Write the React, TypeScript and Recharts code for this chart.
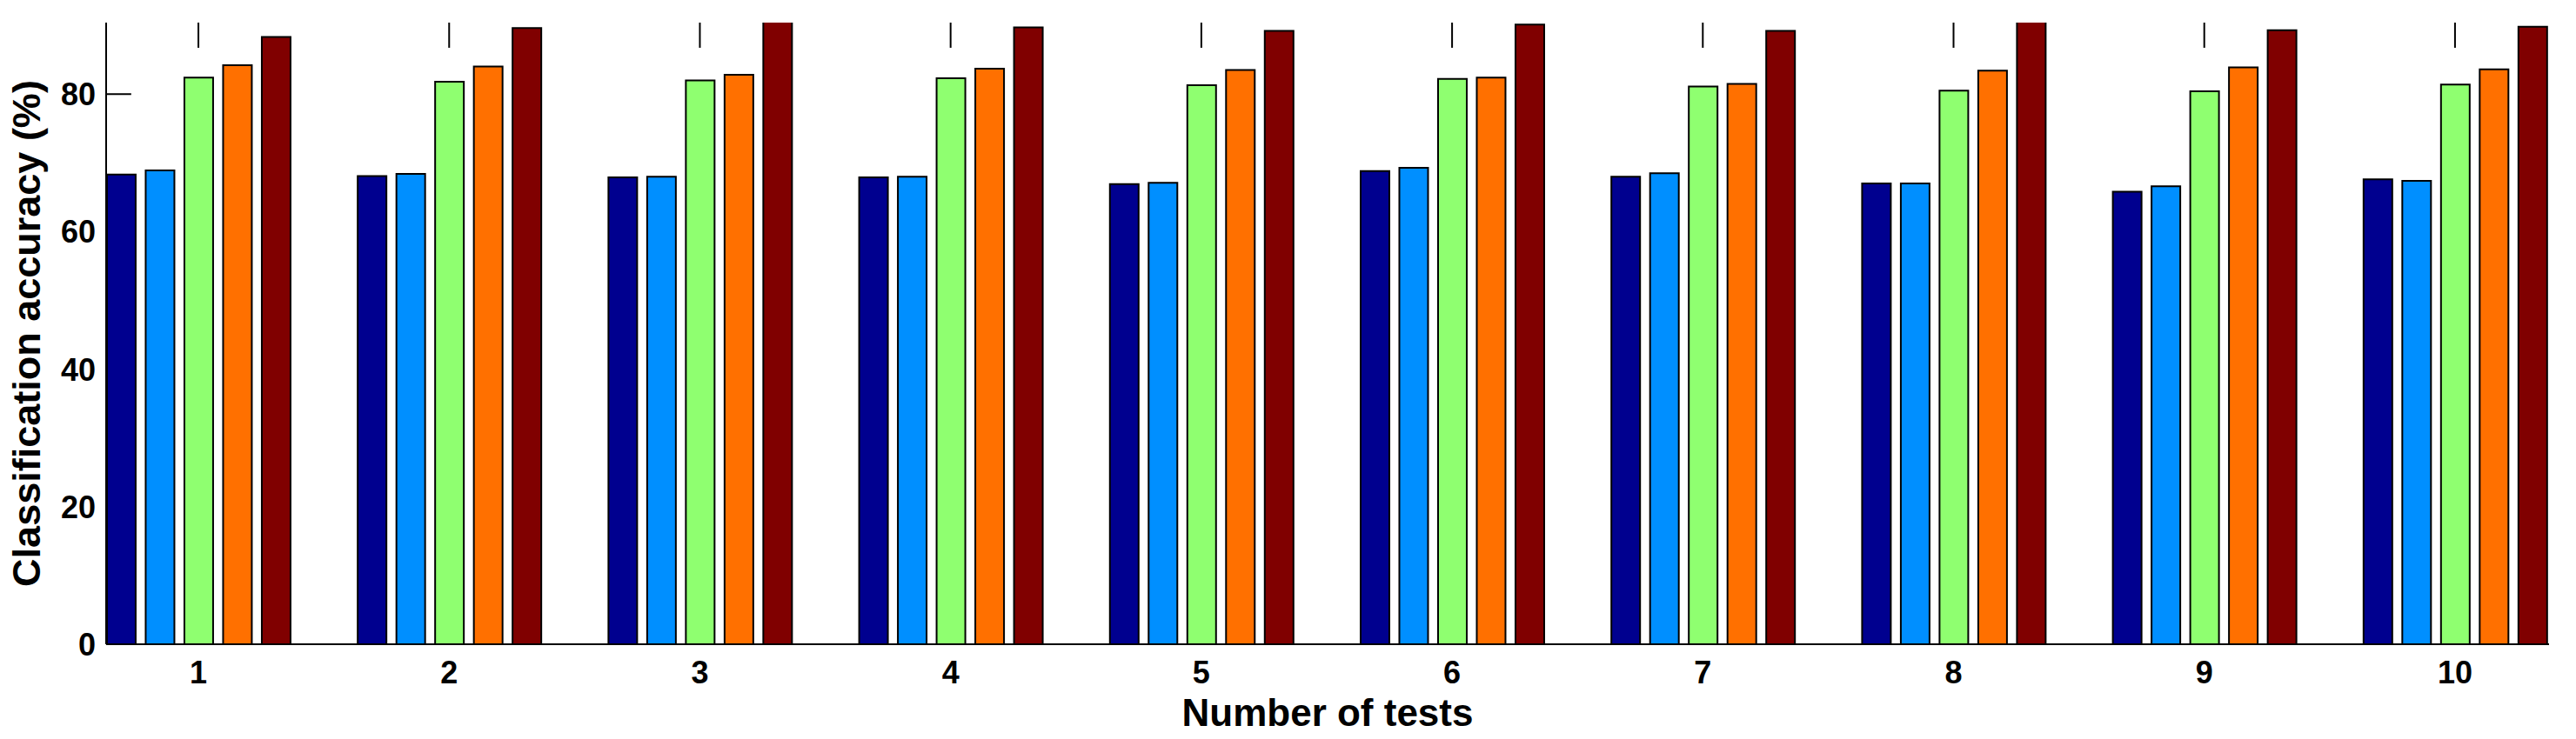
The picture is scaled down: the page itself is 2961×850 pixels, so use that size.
import React from 'react';
import { BarChart, Bar, XAxis, YAxis, ReferenceLine } from 'recharts';

const tests = [1, 2, 3, 4, 5, 6, 7, 8, 9, 10];
const method1 = [68.3, 68.1, 67.9, 67.9, 66.9, 68.8, 68.0, 67.0, 65.8, 67.6];
const method2 = [68.9, 68.4, 68.0, 68.0, 67.1, 69.3, 68.5, 67.0, 66.6, 67.4];
const method3 = [82.4, 81.8, 82.0, 82.3, 81.3, 82.2, 81.1, 80.5, 80.4, 81.4];
const method4 = [84.2, 84.0, 82.8, 83.7, 83.5, 82.4, 81.5, 83.4, 83.9, 83.6];
const method5 = [88.3, 89.6, 90.6, 89.7, 89.2, 90.1, 89.2, 90.8, 89.3, 89.8];
const yTicks = [0, 20, 40, 60, 80];

const COLORS = ['#00008f', '#008fff', '#8fff70', '#ff7000', '#800000'];
const KEYS = ['m1', 'm2', 'm3', 'm4', 'm5'];

const Y_MAX = 90.4;
const X_DOMAIN = [0.632, 10.375];
// inward tick lengths (about 29px) in axis units
const TOP_TICK = 3.66;
const LEFT_TICK = 0.1;

const data = tests.map((t, i) => ({
  test: t,
  m1: method1[i],
  m2: method2[i],
  m3: method3[i],
  m4: method4[i],
  m5: method5[i],
}));

const FONT = '"Liberation Sans", Arial, Helvetica, sans-serif';

function LeftTick(props: any) {
  const { x, y, payload } = props;
  return (
    <text x={x - 12} y={y + 13} textAnchor="end" fontFamily={FONT} fontWeight="bold" fontSize={36} fill="#000">
      {payload.value}
    </text>
  );
}

function BottomTick(props: any) {
  const { x, y, payload } = props;
  return (
    <text x={x} y={y + 45} textAnchor="middle" fontFamily={FONT} fontWeight="bold" fontSize={36} fill="#000">
      {payload.value}
    </text>
  );
}

function YLabel(props: any) {
  const { viewBox } = props;
  const cx = viewBox.x + 46;
  const cy = viewBox.y + viewBox.height / 2;
  return (
    <text
      x={cx}
      y={cy}
      transform={`rotate(-90, ${cx}, ${cy})`}
      textAnchor="middle"
      fontFamily={FONT}
      fontWeight="bold"
      fontSize={45}
      fill="#000"
    >
      Classification accuracy (%)
    </text>
  );
}

function XLabel(props: any) {
  const { viewBox } = props;
  return (
    <text
      x={viewBox.x + viewBox.width / 2}
      y={viewBox.y + 94}
      textAnchor="middle"
      fontFamily={FONT}
      fontWeight="bold"
      fontSize={44}
      fill="#000"
    >
      Number of tests
    </text>
  );
}

export default function App() {
  // ticks sit under the bars in the original, so only those above the first bar show
  const leftTicksShown = yTicks.filter((v) => v > method1[0]);
  return (
    <div style={{ position: 'absolute', left: 0, top: 0, background: '#fff' }}>
      <BarChart
        width={2961}
        height={850}
        data={data}
        margin={{ top: 26, right: 31, bottom: 0, left: 0 }}
        barSize={33}
        barGap={11.5}
      >
        <XAxis
          dataKey="test"
          type="number"
          domain={X_DOMAIN}
          allowDataOverflow
          ticks={tests}
          height={109}
          tickSize={0}
          tickMargin={0}
          tickLine={false}
          axisLine={{ stroke: '#000', strokeWidth: 2 }}
          tick={<BottomTick />}
          label={<XLabel />}
        />
        <XAxis
          xAxisId="top"
          orientation="top"
          dataKey="test"
          type="number"
          domain={X_DOMAIN}
          allowDataOverflow
          height={0}
          tick={false}
          tickLine={false}
          axisLine={{ stroke: '#000', strokeWidth: 2 }}
        />
        <YAxis
          domain={[0, Y_MAX]}
          allowDataOverflow
          ticks={yTicks}
          width={122}
          tickSize={0}
          tickMargin={0}
          tickLine={false}
          axisLine={{ stroke: '#000', strokeWidth: 2 }}
          tick={<LeftTick />}
          label={<YLabel />}
        />
        <YAxis
          yAxisId="right"
          orientation="right"
          domain={[0, Y_MAX]}
          allowDataOverflow
          width={0}
          tick={false}
          tickLine={false}
          axisLine={{ stroke: '#000', strokeWidth: 2 }}
        />
        {tests.map((t) => (
          <ReferenceLine
            key={`tt${t}`}
            segment={[
              { x: t, y: Y_MAX },
              { x: t, y: Y_MAX - TOP_TICK },
            ]}
            stroke="#000"
            strokeWidth={2}
            ifOverflow="visible"
          />
        ))}
        {leftTicksShown.map((v) => (
          <ReferenceLine
            key={`lt${v}`}
            segment={[
              { x: X_DOMAIN[0], y: v },
              { x: X_DOMAIN[0] + LEFT_TICK, y: v },
            ]}
            stroke="#000"
            strokeWidth={2}
            ifOverflow="visible"
          />
        ))}
        {KEYS.map((k, i) => (
          <Bar key={k} dataKey={k} fill={COLORS[i]} stroke="#000" strokeWidth={2} isAnimationActive={false} />
        ))}
      </BarChart>
    </div>
  );
}
